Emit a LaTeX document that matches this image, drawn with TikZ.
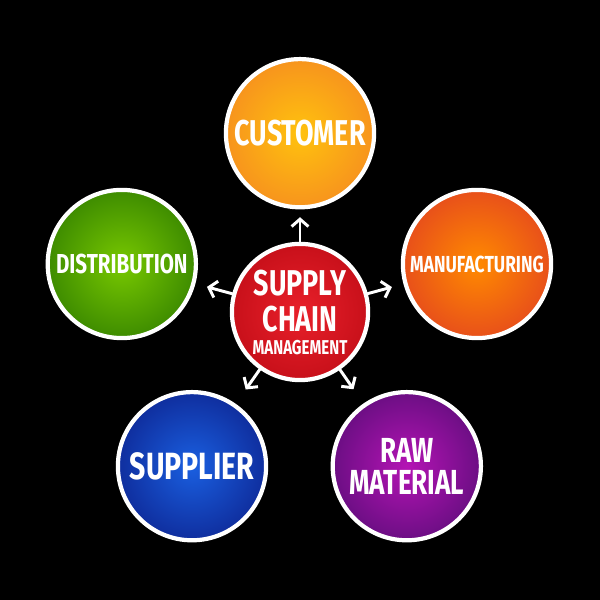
\documentclass[tikz,border=0pt]{standalone}
\usepackage{fontspec}
\setmainfont{Fira Sans}[FakeStretch=0.75]
\usetikzlibrary{arrows.meta}

\definecolor{custin}{HTML}{FFC20E}
\definecolor{custout}{HTML}{F7941D}
\definecolor{manuin}{HTML}{FF8A00}
\definecolor{manuout}{HTML}{E8501A}
\definecolor{distin}{HTML}{78C800}
\definecolor{distout}{HTML}{3E8C00}
\definecolor{suppin}{HTML}{1A5FE0}
\definecolor{suppout}{HTML}{0F2E9E}
\definecolor{rawin}{HTML}{B414B4}
\definecolor{rawout}{HTML}{6C0E84}
\definecolor{hubin}{HTML}{E8202A}
\definecolor{hubout}{HTML}{C8101A}

\begin{document}
\begin{tikzpicture}[
    topic/.style={circle, draw=white, line width=2pt, minimum size=2.47cm, inner sep=0pt, align=center, text=white},
    hub/.style={topic, minimum size=2.27cm},
    link/.style={-{Straight Barb[length=3.5pt,width=8pt]}, white, line width=1.4pt, line cap=round}
]
    % Background
    \fill[black] (0,0) rectangle (10,10);

    % Hub
    \node[hub, inner color=hubin, outer color=hubout, font=\bfseries\fontsize{17}{17.5}\selectfont] (scm) at (5,4.8)
        {SUPPLY\\CHAIN\\[-7pt]{\fontsize{9.5}{10}\selectfont MANAGEMENT}};

    % Topics
    \node[topic, inner color=custin, outer color=custout, font=\bfseries\fontsize{17}{18}\selectfont] (cust) at (5,7.78) {CUSTOMER};
    \node[topic, inner color=distin, outer color=distout, font=\bfseries\fontsize{13}{14}\selectfont] (dist) at (2.03,5.6) {DISTRIBUTION};
    \node[topic, inner color=manuin, outer color=manuout, font=\bfseries\fontsize{11}{12}\selectfont] (manu) at (7.95,5.6) {MANUFACTURING};
    \node[topic, inner color=suppin, outer color=suppout, font=\bfseries\fontsize{18}{19}\selectfont] (supp) at (3.2,2.23) {SUPPLIER};
    \node[topic, inner color=rawin, outer color=rawout, font=\bfseries\fontsize{16.5}{15}\selectfont] (raw) at (6.78,2.23) {RAW\\MATERIAL};

    % Links
    \draw[link, shorten >=0.13cm] (scm) -- (cust);
    \draw[link, shorten >=0.2cm] (scm) -- (dist);
    \draw[link, shorten >=0.2cm] (scm) -- (manu);
    \draw[link, shorten >=0.29cm] (scm) -- (supp);
    \draw[link, shorten >=0.29cm] (scm) -- (raw);

\end{tikzpicture}
\end{document}
